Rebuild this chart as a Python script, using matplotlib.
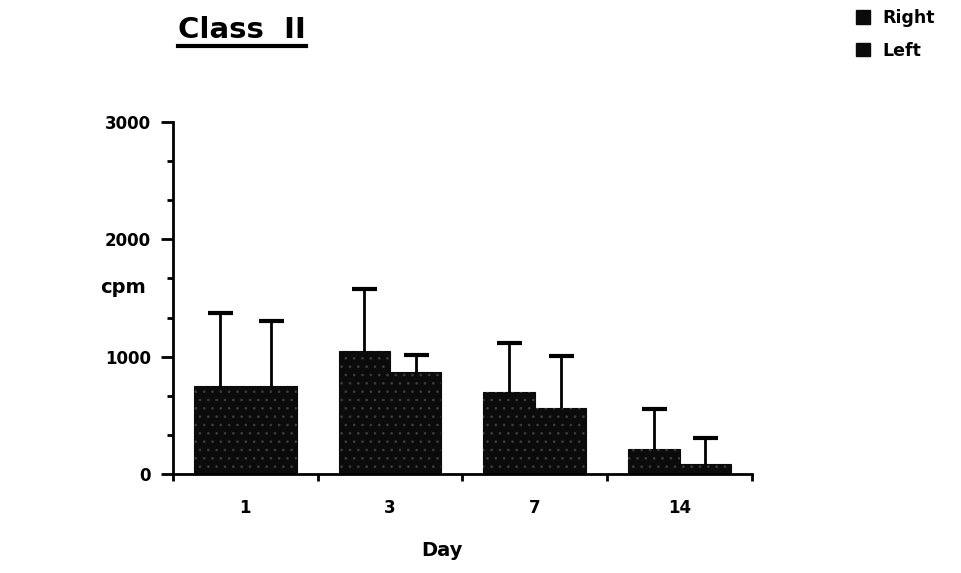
import numpy as np
import matplotlib.pyplot as plt
from matplotlib.lines import Line2D
from matplotlib.patches import Patch

plt.rcParams["font.family"] = ["DejaVu Sans"]
plt.rcParams["hatch.linewidth"] = 0.7

days = ["1", "3", "7", "14"]
right_mean = [750, 1050, 700, 215]
right_err = [625, 525, 420, 335]
left_mean = [750, 870, 560, 80]
left_err = [550, 145, 445, 230]

fig = plt.figure(figsize=(9.61, 5.73), dpi=100)
ax = fig.add_axes([0.18, 0.173, 0.6025, 0.614])

x = np.arange(len(days)) + 0.5
w = 0.355
dark = "#0b0b0b"
for xs, m, e in [(x - w / 2, right_mean, right_err),
                 (x + w / 2, left_mean, left_err)]:
    m = np.array(m)
    e = np.array(e)
    ax.bar(xs, m, w, color=dark, edgecolor=dark, linewidth=0.8, zorder=2)
    # faint speckle texture
    ax.bar(xs, m, w, fill=False, edgecolor="#3c3c3c", hatch="..",
           linewidth=0, zorder=2.1)
    ax.vlines(xs, m, m + e, color="black", linewidth=2, zorder=3)
    ax.plot(xs, m + e, linestyle="none", marker="_", markersize=18,
            markeredgewidth=3, color="black", zorder=3)

ax.set_xlim(0, 4)
ax.set_ylim(0, 3000)
ax.spines["top"].set_visible(False)
ax.spines["right"].set_visible(False)
for s in ("left", "bottom"):
    ax.spines[s].set_linewidth(2)

ax.set_yticks([0, 1000, 2000, 3000])
ax.set_yticks(np.arange(0, 3001, 1000 / 3), minor=True)
ax.tick_params(axis="y", which="major", length=9, width=2, labelsize=12,
               pad=7)
ax.tick_params(axis="y", which="minor", length=4, width=2)
ax.set_xticks([0, 1, 2, 3, 4])
ax.set_xticklabels([])
ax.set_xticks(x, minor=True)
ax.set_xticklabels(days, minor=True)
ax.tick_params(axis="x", which="major", length=5, width=2, direction="out")
ax.tick_params(axis="x", which="minor", length=0, labelsize=12, pad=18)
for lab in ax.get_yticklabels() + ax.get_xticklabels(minor=True):
    lab.set_fontweight("bold")

fig.text(0.46, 0.04, "Day", fontsize=14, fontweight="bold",
         ha="center", va="center")
fig.text(0.128, 0.499, "cpm", fontsize=14, fontweight="bold",
         ha="center", va="center")

title = fig.text(0.252, 0.948, "Class  II", fontsize=21, fontweight="bold",
                 ha="center", va="center")
fig.canvas.draw()
bb = title.get_window_extent().transformed(fig.transFigure.inverted())
fig.add_artist(Line2D([bb.x0, bb.x1], [bb.y0 - 0.004, bb.y0 - 0.004],
                      transform=fig.transFigure, color="black", linewidth=3))

handles = [Patch(facecolor=dark, edgecolor=dark),
           Patch(facecolor=dark, edgecolor=dark)]
fig.legend(handles, ["Right", "Left"], loc="upper left",
           bbox_to_anchor=(0.874, 1.012), frameon=False,
           handlelength=0.85, handleheight=0.85, handletextpad=0.7,
           labelspacing=0.85, prop={"weight": "bold", "size": 12.5})

fig.savefig("out.png", dpi=100)
